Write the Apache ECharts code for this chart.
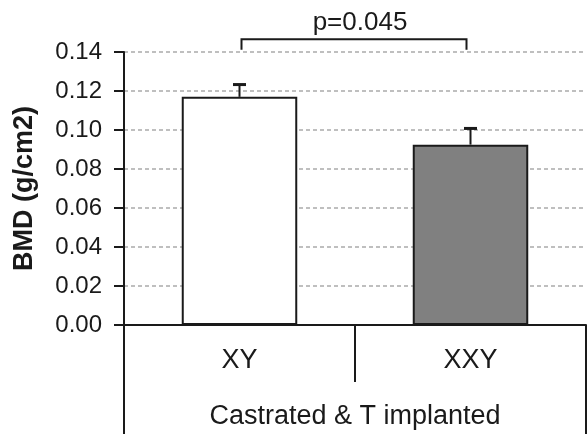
<!DOCTYPE html>
<html>
<head>
<meta charset="utf-8">
<script src="https://cdn.jsdelivr.net/npm/echarts@6/dist/echarts.min.js"></script>
<style>
html,body{margin:0;padding:0;background:#fff;}
#chart{width:587px;height:434px;}
</style>
</head>
<body>
<div id="chart"></div>
<script>
// ---- data ----
const categories = ['XY', 'XXY'];
const groupLabel = ['Castrated & T implanted'];
const bmdMean = [0.117, 0.0925];
const bmdError = [0.0063, 0.0083];
const barColors = ['#ffffff', '#808080'];
const yMin = 0, yMax = 0.14, yInterval = 0.02;
const yTitle = 'BMD (g/cm2)';
const pValueText = 'p=0.045';
const bracketTop = 0.1465;
const bracketFoot = 0.1412;

const FONT = '"Liberation Sans", Arial, sans-serif';
const INK = '#1a1a1a';

const chart = echarts.init(document.getElementById('chart'), null, {renderer: 'canvas'});

const barData = bmdMean.map((v, i) => ({
  value: v,
  itemStyle: {color: barColors[i], borderColor: INK, borderWidth: 2}
}));
const errData = bmdMean.map((v, i) => [i, v, bmdError[i]]);

chart.setOption({
  animation: false,
  backgroundColor: '#fff',
  grid: {left: 124, right: 1, top: 52, bottom: 109, containLabel: false},
  xAxis: [
    {
      type: 'category',
      data: categories,
      position: 'bottom',
      axisLine: {show: true, lineStyle: {color: INK, width: 2}},
      axisTick: {show: true, alignWithLabel: false, length: 57, lineStyle: {color: INK, width: 2}},
      axisLabel: {margin: 22, fontFamily: FONT, fontSize: 27, color: INK},
      splitLine: {show: false}
    },
    {
      type: 'category',
      data: groupLabel,
      position: 'bottom',
      gridIndex: 0,
      axisLine: {show: false},
      axisTick: {show: true, alignWithLabel: false, length: 112, lineStyle: {color: INK, width: 2}},
      axisLabel: {margin: 78, fontFamily: FONT, fontSize: 27, color: INK},
      splitLine: {show: false}
    }
  ],
  yAxis: {
    type: 'value',
    min: yMin, max: yMax, interval: yInterval,
    name: yTitle,
    nameLocation: 'middle',
    nameGap: 86,
    nameTextStyle: {fontFamily: FONT, fontSize: 27, fontWeight: 'bold', color: INK},
    axisLine: {show: true, lineStyle: {color: INK, width: 2}},
    axisTick: {show: true, length: 10, lineStyle: {color: INK, width: 2}},
    axisLabel: {margin: 22, fontFamily: FONT, fontSize: 24, color: INK,
      formatter: v => v.toFixed(2)},
    splitLine: {show: true, lineStyle: {color: '#ababab', width: 1.5, type: [4, 3]}}
  },
  series: [
    {
      type: 'bar',
      xAxisIndex: 0,
      data: barData,
      barWidth: '50%',
      z: 3
    },
    {
      type: 'custom',
      xAxisIndex: 0,
      data: errData,
      z: 4,
      clip: false,
      renderItem: function (params, api) {
        const x = api.value(0), m = api.value(1), e = api.value(2);
        const base = api.coord([x, m]);
        const top = api.coord([x, m + e]);
        return {
          type: 'group',
          children: [
            {type: 'line', shape: {x1: base[0], y1: base[1], x2: top[0], y2: top[1]},
             style: {stroke: INK, lineWidth: 2}},
            {type: 'line', shape: {x1: top[0] - 6.5, y1: top[1], x2: top[0] + 6.5, y2: top[1]},
             style: {stroke: INK, lineWidth: 3}}
          ]
        };
      }
    },
    {
      type: 'custom',
      xAxisIndex: 0,
      data: [[0, 1, bracketTop, bracketFoot]],
      z: 5,
      clip: false,
      renderItem: function (params, api) {
        const a = api.value(0), b = api.value(1), t = api.value(2), f = api.value(3);
        const p0 = api.coord([a, t]);
        const p1 = api.coord([b, t]);
        const f0 = api.coord([a, f]);
        const f1 = api.coord([b, f]);
        return {
          type: 'group',
          children: [
            {type: 'polyline', shape: {points: [[f0[0] + 2, f0[1]], [p0[0] + 2, p0[1]], [p1[0] - 4, p1[1]], [f1[0] - 4, f1[1]]]},
             style: {stroke: INK, lineWidth: 2, fill: null}},
            {type: 'text', x: (p0[0] + p1[0]) / 2 + 5, y: p0[1] - 3,
             style: {text: pValueText, fontFamily: FONT, fontSize: 26, fill: INK,
                     textAlign: 'center', textVerticalAlign: 'bottom'}}
          ]
        };
      }
    }
  ]
});
</script>
</body>
</html>
